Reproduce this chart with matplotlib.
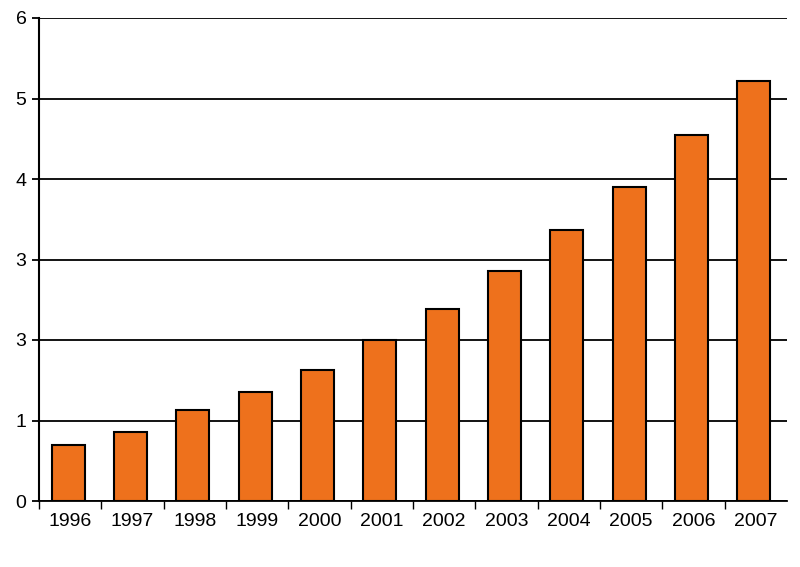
import numpy as np
import matplotlib
matplotlib.use("Agg")
from matplotlib import pyplot as plt

years = ["1996", "1997", "1998", "1999", "2000", "2001",
         "2002", "2003", "2004", "2005", "2006", "2007"]
values = [0.70, 0.86, 1.13, 1.35, 1.63, 2.00, 2.39, 2.86, 3.37, 3.90, 4.55, 5.22]
ytick_pos = [0, 1, 2, 3, 4, 5, 6]
ytick_labels = ["0", "1", "3", "3", "4", "5", "6"]

plt.rcParams['font.family'] = ['Liberation Sans', 'DejaVu Sans']

fig = plt.figure(figsize=(8, 5.67), dpi=100)
ax = fig.add_axes([39/800, 1 - 501/567, (787 - 39)/800, (501 - 18)/567])

x = np.arange(len(years))
ax.set_axisbelow(True)
ax.grid(axis="y", color="black", linewidth=1.3)
ax.bar(x - 0.03, values, width=0.53, color="#EE711C", edgecolor="black", linewidth=1.5, zorder=3)

ax.set_xlim(-0.5, len(years) - 0.5)
ax.set_ylim(0, 6)
ax.set_yticks(ytick_pos)
ax.set_yticklabels(ytick_labels, fontsize=14)
ax.set_xticks(x)
ax.set_xticklabels(years, fontsize=14)
ax.tick_params(axis="x", which="major", length=0, pad=9)
ax.set_xticks(np.arange(-0.5, len(years) - 1, 1), minor=True)
ax.tick_params(axis="x", which="minor", length=6, width=1, direction="out")
ax.tick_params(axis="y", length=5, width=1.3, pad=4)

for side in ["top", "right"]:
    ax.spines[side].set_visible(False)
ax.spines["left"].set_linewidth(1.5)
ax.spines["bottom"].set_linewidth(1.3)

fig.savefig("out.png", dpi=100)
